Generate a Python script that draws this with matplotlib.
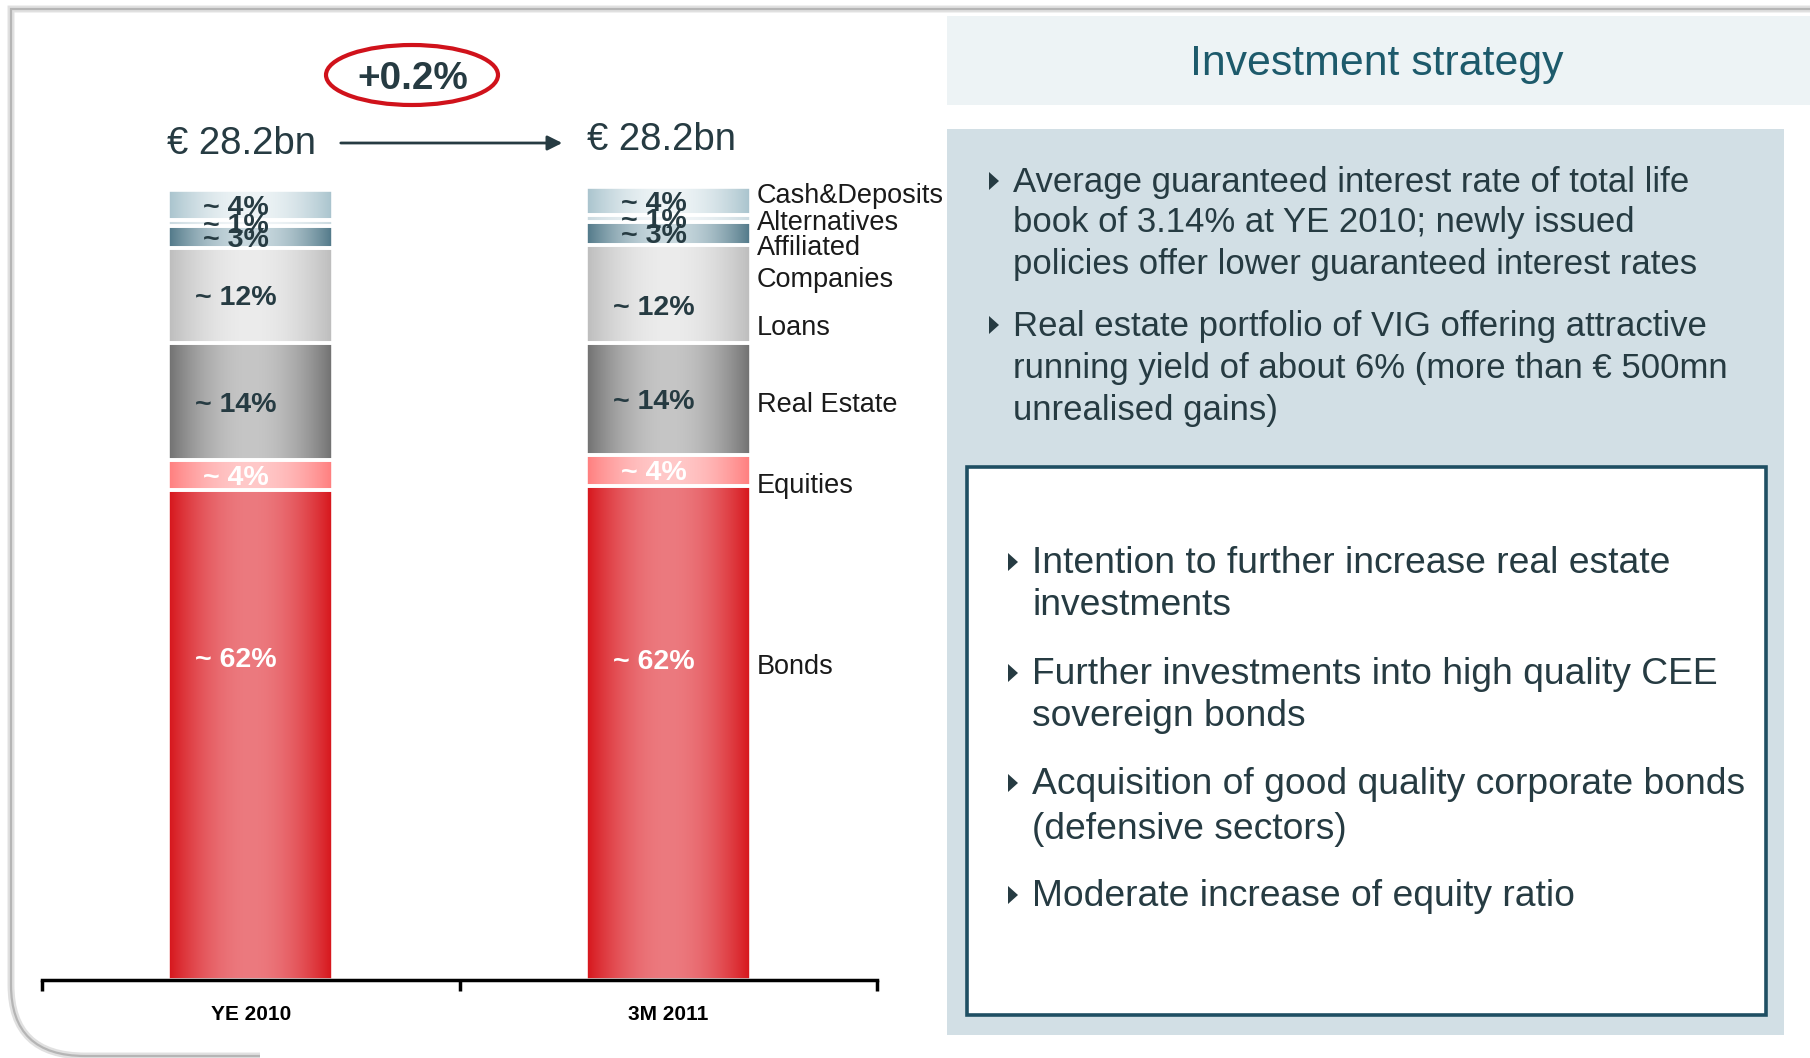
import matplotlib

matplotlib.use("Agg")
import matplotlib.pyplot as plt
import numpy as np
from matplotlib.colors import to_rgb
from matplotlib.patches import Ellipse, PathPatch, Polygon, Rectangle
from matplotlib.path import Path

plt.rcParams["font.family"] = ["Liberation Sans", "DejaVu Sans"]

# --- data -------------------------------------------------------------
categories = ["YE 2010", "3M 2011"]
segments = ["Bonds", "Equities", "Real Estate", "Loans",
            "Affiliated Companies", "Alternatives", "Cash&Deposits"]
ye_2010 = [62.0, 3.8, 14.8, 12.1, 2.7, 0.8, 3.8]
m3_2011 = [62.5, 4.0, 14.1, 12.4, 3.0, 0.8, 3.6]
pct_labels = ["~ 62%", "~ 4%", "~ 14%", "~ 12%", "~ 3%", "~ 1%", "~ 4%"]
totals = ["€ 28.2bn", "€ 28.2bn"]
change = "+0.2%"

title = "Investment strategy"
upper_bullets = [
    ["Average guaranteed interest rate of total life",
     "book of 3.14% at YE 2010; newly issued",
     "policies offer lower guaranteed interest rates"],
    ["Real estate portfolio of VIG offering attractive",
     "running yield of about 6% (more than € 500mn",
     "unrealised gains)"],
]
lower_bullets = [
    ["Intention to further increase real estate", "investments"],
    ["Further investments into high quality CEE", "sovereign bonds"],
    ["Acquisition of good quality corporate bonds", "(defensive sectors)"],
    ["Moderate increase of equity ratio"],
]

# gradient colours per segment: (edge, centre)
seg_colors = [
    ("#d61319", "#ec7a7f"),
    ("#ff7c7c", "#ffc9c9"),
    ("#6f6f6f", "#c6c6c6"),
    ("#bcbcbc", "#ececec"),
    ("#4e7686", "#c9d9df"),
    ("#c9d9df", "#f2f6f8"),
    ("#a7c2cc", "#eef4f6"),
]
label_colors = ["white", "white", "#263b42", "#263b42", "#263b42", "#263b42", "#263b42"]

DARK = "#263b42"
W, H = 1810, 1058

fig = plt.figure(figsize=(W / 100, H / 100), dpi=100)

# background/overlay axes in pixel coordinates (y down)
bg = fig.add_axes([0, 0, 1, 1], zorder=0)
bg.set_xlim(0, W)
bg.set_ylim(H, 0)
bg.axis("off")

# slide frame with rounded lower-left corner
frame = Path(
    [(W, 9), (11, 9), (11, 985), (11, 1056), (85, 1056), (260, 1056)],
    [Path.MOVETO, Path.LINETO, Path.LINETO, Path.CURVE3, Path.CURVE3, Path.LINETO],
)
bg.add_patch(PathPatch(frame, facecolor="none", edgecolor="#d4d4d4", lw=5, alpha=0.7))
bg.add_patch(PathPatch(frame, facecolor="none", edgecolor="#b5b5b5", lw=1.6))

# right-hand panels
bg.add_patch(Rectangle((947, 16), W - 947, 89, facecolor="#edf3f5", edgecolor="none"))
bg.add_patch(Rectangle((947, 129), 1784 - 947, 1035 - 129, facecolor="#d2dfe5", edgecolor="none"))
bg.add_patch(Rectangle((967, 467), 1766 - 967, 1015 - 467, facecolor="white",
                       edgecolor="#1f4f63", lw=2.6))

bg.text(1377, 75, title, ha="center", va="baseline", fontsize=30.8, color="#1d5a6b")


def bullet(x, y):
    bg.add_patch(Polygon([(x, y - 20), (x, y - 2), (x + 10, y - 11)], closed=True,
                         facecolor=DARK, edgecolor="none"))


upper_base = [[192, 232, 274], [336, 378, 420]]
for lines, bases in zip(upper_bullets, upper_base):
    bullet(989, bases[0])
    for line, yb in zip(lines, bases):
        bg.text(1013, yb, line, ha="left", va="baseline", fontsize=25, color=DARK)

lower_base = [[573, 615], [684, 726], [794, 839], [906]]
for lines, bases in zip(lower_bullets, lower_base):
    bullet(1008, bases[0])
    for line, yb in zip(lines, bases):
        bg.text(1032, yb, line, ha="left", va="baseline", fontsize=26.8, color=DARK)

# totals, arrow and change oval
bg.text(167, 154, totals[0], ha="left", va="baseline", fontsize=27.6, color=DARK)
bg.text(587, 150, totals[1], ha="left", va="baseline", fontsize=27.6, color=DARK)
bg.annotate("", xy=(565, 143), xytext=(338, 143),
            arrowprops=dict(arrowstyle="-|>", color=DARK, lw=2, mutation_scale=22))
bg.add_patch(Ellipse((412, 75), 172, 60, facecolor="white", edgecolor="#d0121b", lw=3))
bg.text(413, 89, change, ha="center", va="baseline", fontsize=27.8, fontweight="bold", color=DARK)

# segment names next to the second bar
seg_text = [("Cash&Deposits", 203), ("Alternatives", 230), ("Affiliated", 255),
            ("Companies", 287), ("Loans", 335), ("Real Estate", 412),
            ("Equities", 493), ("Bonds", 674)]
for name, yb in seg_text:
    bg.text(757, yb, name, ha="left", va="baseline", fontsize=19.5, color="#1a1a1a")

# --- stacked bars -----------------------------------------------------
ax = fig.add_axes([42 / W, 78 / H, 835 / W, 869 / H], zorder=1)
ax.patch.set_alpha(0)
x = np.arange(len(categories))
bar_w = 0.395

grad_t = np.linspace(0, 1, 256)
profile = np.sin(np.pi * grad_t) ** 0.9

# where each % label sits inside its segment (fraction of height)
label_frac = {(0, 0): 0.66, (1, 0): 0.65, (1, 3): 0.39}
cap_half = 1.27  # half the cap height of the % labels, in data units

for xi, values in zip(x, [ye_2010, m3_2011]):
    bottoms = np.concatenate([[0], np.cumsum(values)[:-1]])
    bars = ax.bar([xi] * len(values), values, bar_w, bottom=bottoms,
                  facecolor="none", edgecolor="white", lw=2.6, zorder=3)
    for i, patch in enumerate(bars.patches):
        x0, y0 = patch.get_x(), patch.get_y()
        x1, y1 = x0 + patch.get_width(), y0 + patch.get_height()
        edge, centre = np.array(to_rgb(seg_colors[i][0])), np.array(to_rgb(seg_colors[i][1]))
        img = edge[None, :] + (centre - edge)[None, :] * profile[:, None]
        ax.imshow(img[None, :, :], extent=(x0, x1, y0, y1), aspect="auto",
                  interpolation="bilinear", zorder=2)
        frac = label_frac.get((xi, i), 0.5)
        ax.text(xi - 0.035, y0 + (y1 - y0) * frac - cap_half, pct_labels[i], ha="center",
                va="baseline", fontsize=20.5, fontweight="bold", color=label_colors[i], zorder=4)

ax.set_xlim(-0.5, 1.5)
ax.set_ylim(0, 110)
for side in ("top", "right", "left"):
    ax.spines[side].set_visible(False)
ax.spines["bottom"].set_linewidth(2.5)
ax.spines["bottom"].set_zorder(5)
ax.set_yticks([])
ax.set_xticks([-0.5, 0.5, 1.5])
ax.set_xticklabels([])
ax.tick_params(axis="x", which="major", direction="out", length=8, width=2.5, color="black")
ax.set_xticks(x, minor=True)
ax.set_xticklabels(categories, minor=True, fontsize=15, fontweight="bold")
ax.tick_params(axis="x", which="minor", length=0, pad=18)

fig.savefig("out.png", dpi=100, facecolor="white")
